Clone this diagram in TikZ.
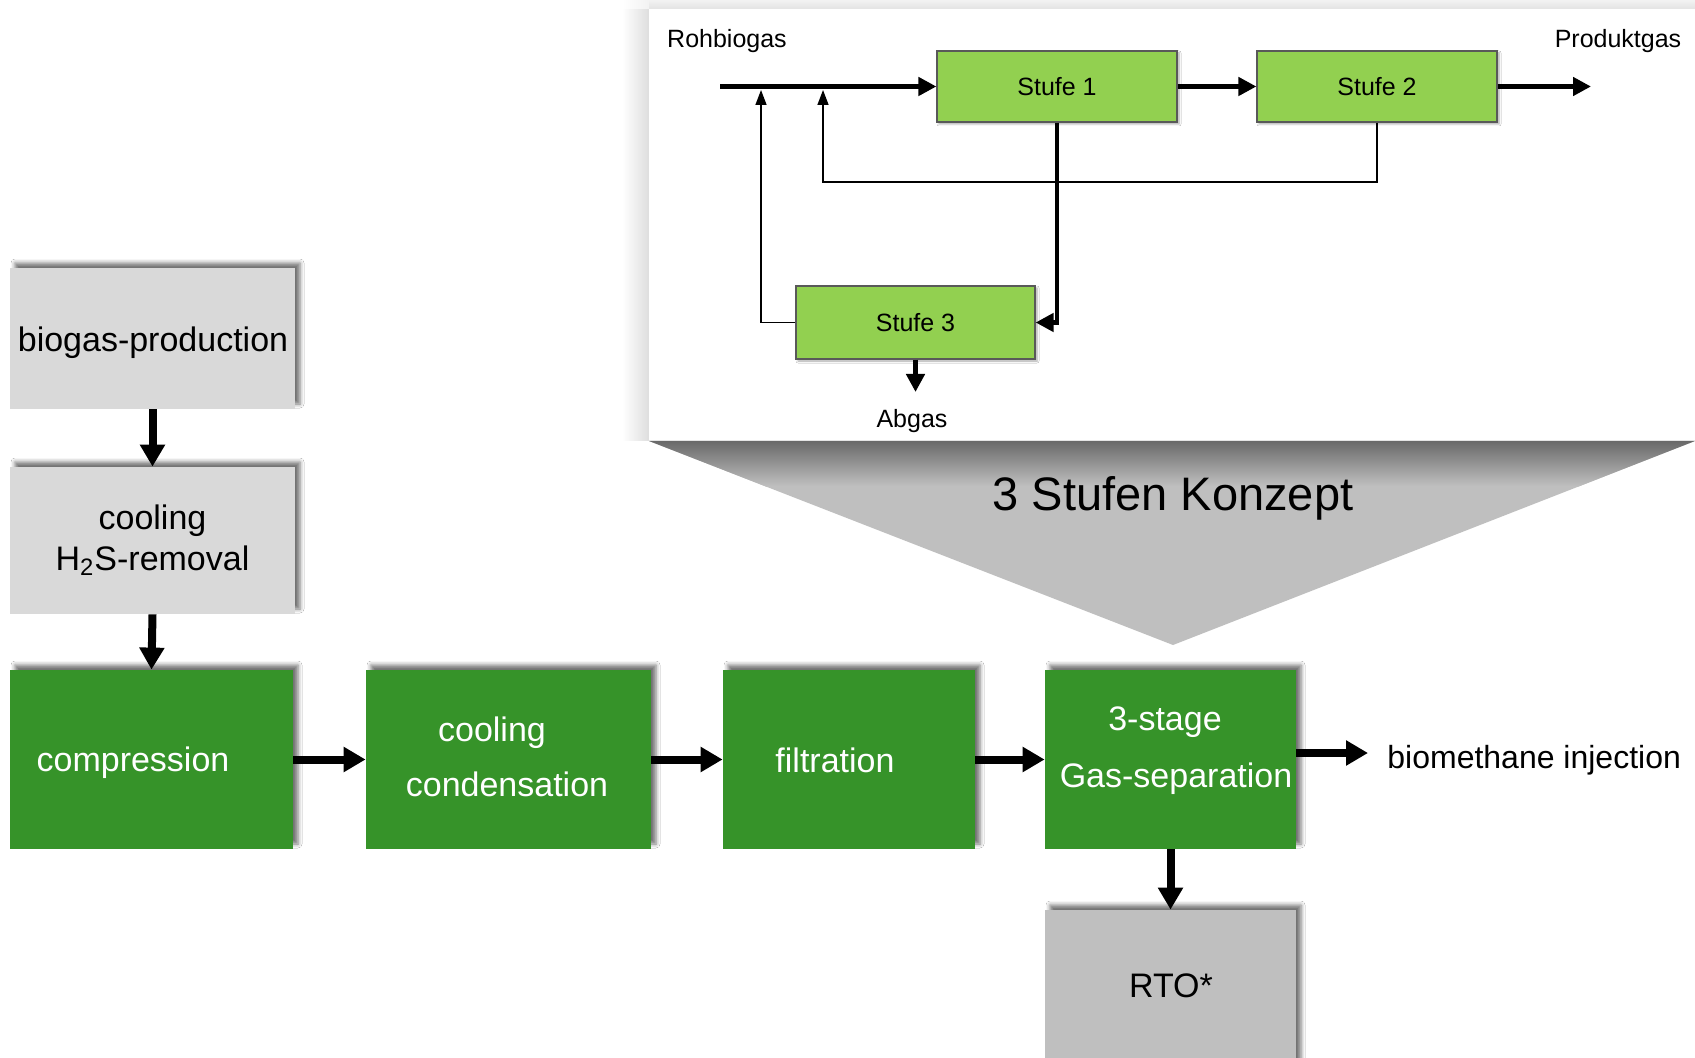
\documentclass[tikz,border=0pt]{standalone}
\usepackage{fontspec}
\setmainfont{Liberation Sans}
\usetikzlibrary{arrows.meta,shadows.blur}
\definecolor{dgreen}{RGB}{54,147,41}
\definecolor{lgreen}{RGB}{146,208,80}
\definecolor{lgray}{RGB}{217,217,217}
\definecolor{mgray}{RGB}{191,191,191}
\definecolor{tshade}{RGB}{105,105,105}
\begin{document}
\begin{tikzpicture}[x=0.5pt,y=-0.5pt,
  boxshadow/.style={blur shadow={shadow xshift=2.5pt,shadow yshift=2.5pt,shadow blur radius=2pt,shadow opacity=55}},
  graybox/.style={fill=lgray,draw=none,inner sep=0pt,boxshadow,align=center,font=\fontsize{17}{20.5}\selectfont},
  greenbox/.style={fill=dgreen,draw=none,inner sep=0pt,boxshadow,minimum height=89.5pt},
  btxt/.style={font=\fontsize{17}{20}\selectfont,inner sep=0pt},
  wtxt/.style={btxt,text=white},
  stxt/.style={font=\fontsize{12.5}{15}\selectfont,inner sep=0pt},
  stufebox/.style={fill=lgreen,draw=black!65,line width=0.6pt,inner sep=0pt,minimum width=120pt,
    font=\fontsize{12.5}{15}\selectfont,blur shadow={shadow xshift=1pt,shadow yshift=-1pt,shadow blur radius=1pt,shadow opacity=35}},
  bigarrow/.style={line width=4pt,-{Triangle[length=11pt,width=12pt]}},
  thickarrow/.style={line width=2.4pt,-{Triangle[length=9pt,width=9pt]}},
  thinarrow/.style={line width=0.75pt,-{Triangle[length=7.5pt,width=5.5pt]}}]
\useasboundingbox (0,0) rectangle (1695,1058);
\fill[white] (0,0) rectangle (1695,1058);

% soft glow round the inset panel
\shade[left color=white,right color=black!13] (622,9) rectangle (649,441);
\shade[top color=black!5,bottom color=black!11] (649,0) rectangle (1695,9);
\shade[left color=white,right color=black!5] (622,0) rectangle (649,9);

% inset panel
\node[fill=white,draw=none,inner sep=0pt,minimum width=523pt,minimum height=216pt] (panel) at (1172,225) {};

% triangle under the inset, with the panel's shadow on its top
\fill[mgray] (649,441) -- (1695,441) -- (1173,645) -- cycle;
\begin{scope}
  \clip (649,441) -- (1695,441) -- (1173,645) -- cycle;
  \shade[top color=tshade,bottom color=mgray] (649,441) rectangle (1695,486);
\end{scope}

\node[font=\fontsize{23.5}{28}\selectfont,inner sep=0pt] (title) at (1173,498) {3 Stufen Konzept};

% inset content
\node[stufebox,minimum height=35.5pt] (s1) at (1057,86.5) {Stufe 1};
\node[stufebox,minimum height=35.5pt] (s2) at (1377,86.5) {Stufe 2};
\node[stufebox,minimum height=36.5pt,minimum width=119.5pt] (s3) at (915.5,322.5) {Stufe 3};
\node[stxt] (roh) at (727,41) {Rohbiogas};
\node[stxt] (prod) at (1618,41) {Produktgas};
\node[stxt] (abg) at (912,421) {Abgas};

\coordinate (rin) at (720,86.5);
\coordinate (rout) at (1591,86.5);
\coordinate (j1) at (761,90);
\coordinate (j2) at (823,90);
\coordinate (k2) at (823,182);
\coordinate (abend) at (915.5,392);

\draw[thinarrow] (s3.west) -| (j1);
\draw[thinarrow] (s2.south) |- (k2) -- (j2);
\draw[thickarrow] (rin) -- (s1.west);
\draw[thickarrow] (s1.east) -- (s2.west);
\draw[thickarrow] (s2.east) -- (rout);
\draw[thickarrow] (s1.south) |- (s3.east);
\draw[thickarrow] (s3.south) -- (abend);

% main flow
\node[graybox,minimum width=142.5pt,minimum height=70.5pt] (bp) at (152.5,338.5) {};
\node[btxt] (bpt) at (153,343) {biogas-production};
\node[graybox,minimum width=142.5pt,minimum height=73.5pt] (cs) at (152.5,540.5) {cooling\\H\textsubscript{2}S-removal};
\node[greenbox,minimum width=141.5pt] (comp) at (151.5,759.5) {};
\node[greenbox,minimum width=142.5pt] (cond) at (508.5,759.5) {};
\node[greenbox,minimum width=126pt] (filt) at (849,759.5) {};
\node[greenbox,minimum width=125.5pt] (sep) at (1170.5,759.5) {};
\node[fill=mgray,draw=none,inner sep=0pt,boxshadow,minimum width=125.5pt,minimum height=82.5pt] (rto) at (1170.5,992.5) {};

\node[wtxt] (compt) at (133,763) {compression};
\node[wtxt] (condt1) at (492,733) {cooling};
\node[wtxt] (condt2) at (507,784) {condensation};
\node[wtxt] (filtt) at (835,760) {filtration};
\node[wtxt] (sept1) at (1165,722) {3-stage};
\node[wtxt] (sept2) at (1176,779) {Gas-separation};
\node[btxt] (rtot) at (1171,986) {RTO*};
\node[font=\fontsize{16}{19}\selectfont,inner sep=0pt,anchor=west] (bm) at (1387,760) {biomethane injection};

\coordinate (bmend) at (1368,753);

\draw[bigarrow] (bp.south) -- (cs.north);
\draw[bigarrow] (cs.south) -- (comp.north);
\draw[bigarrow] (comp.east) -- (cond.west);
\draw[bigarrow] (cond.east) -- (filt.west);
\draw[bigarrow] (filt.east) -- (sep.west);
\draw[bigarrow] (sep.east |- bmend) -- (bmend);
\draw[bigarrow] (sep.south) -- (rto.north);
\end{tikzpicture}
\end{document}
